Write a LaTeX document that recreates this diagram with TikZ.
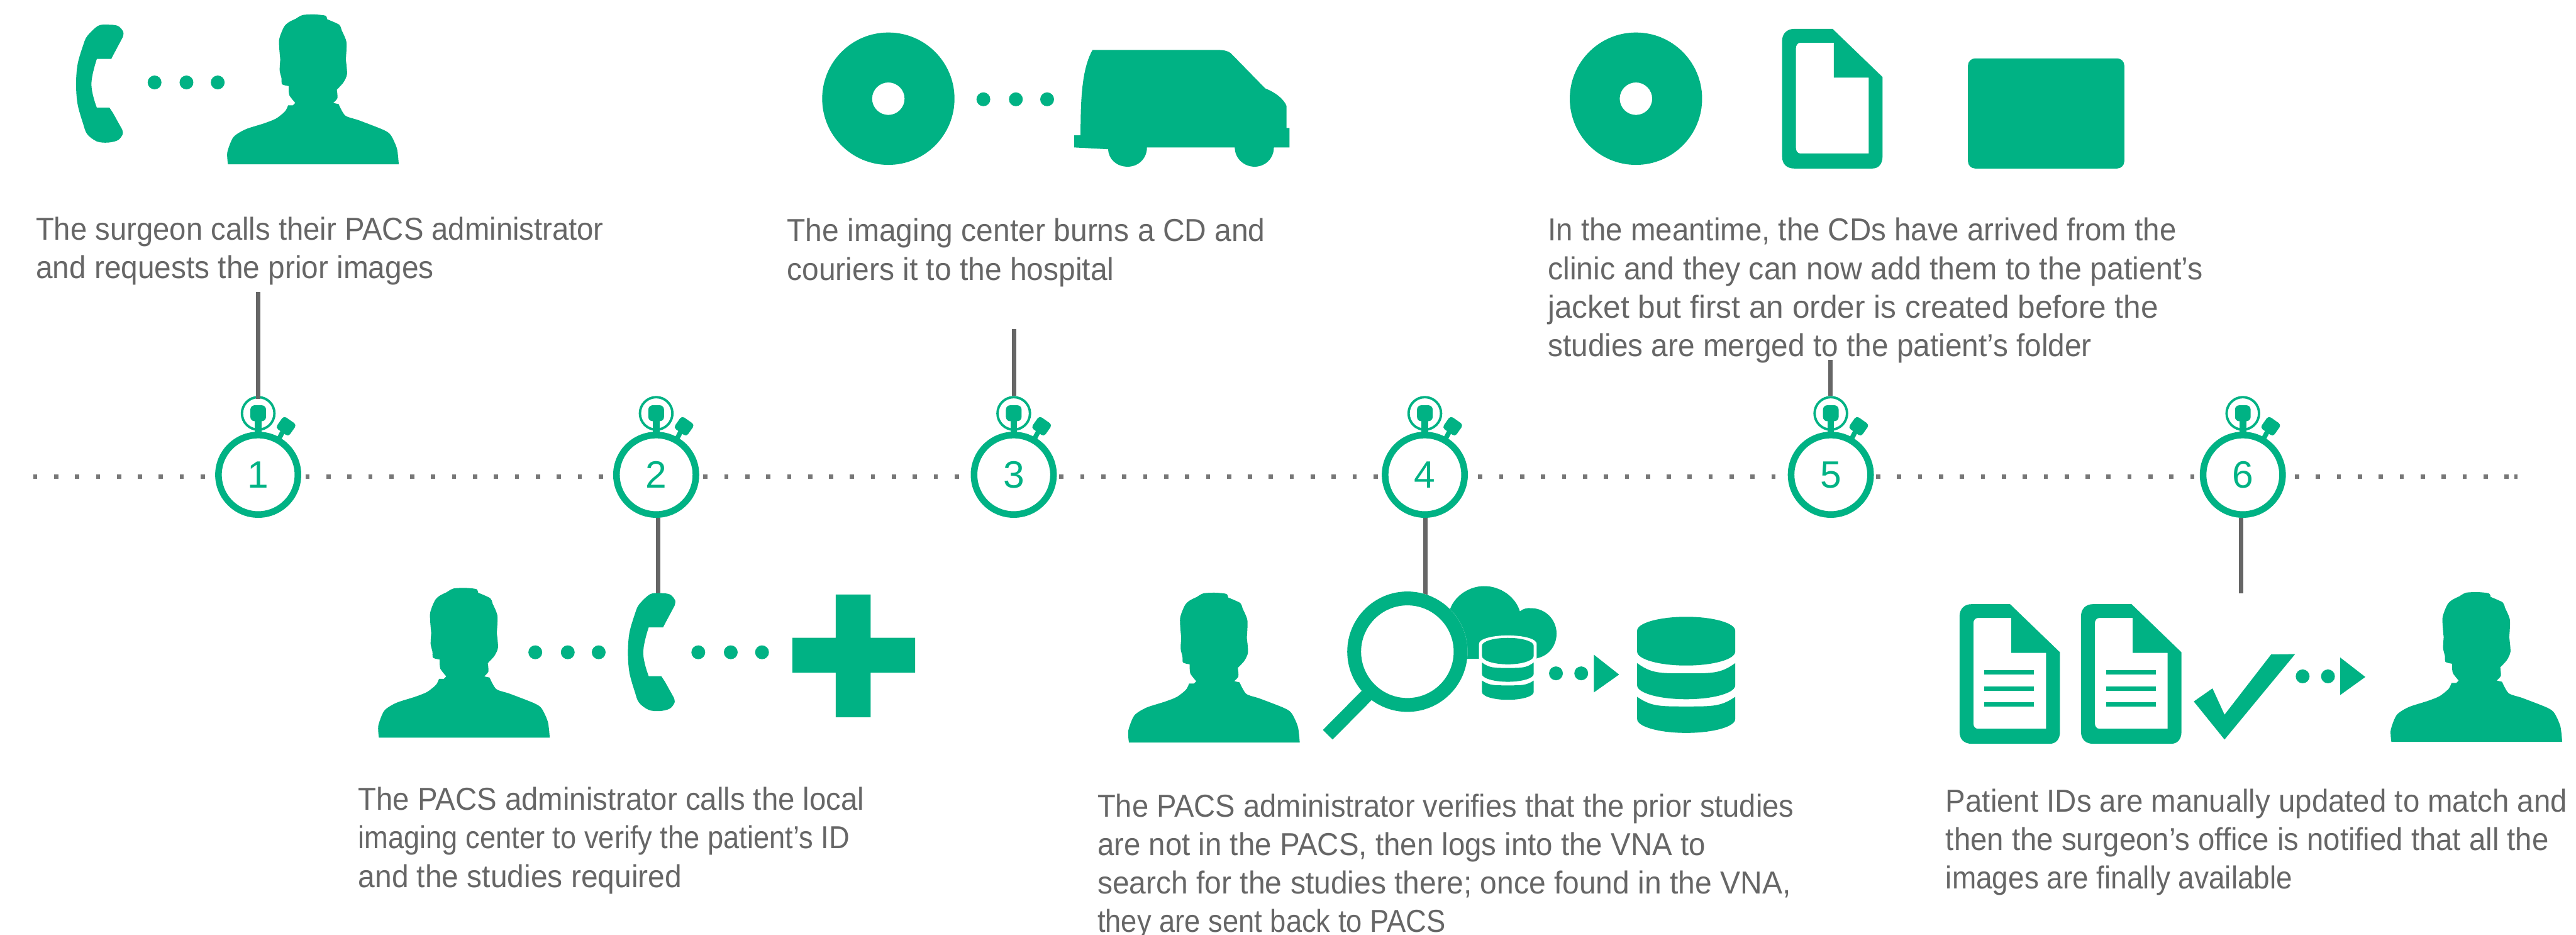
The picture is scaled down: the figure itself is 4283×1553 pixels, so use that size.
\documentclass[tikz,border=0pt]{standalone}
\usepackage{fontspec}
\usepackage{graphicx}
\setmainfont{Liberation Sans}
\definecolor{brandgreen}{HTML}{00B284}
\definecolor{linegrey}{HTML}{666666}
\definecolor{dotgrey}{HTML}{777777}
\definecolor{textgrey}{HTML}{666666}
\newlength{\pxu}\setlength{\pxu}{0.01cm}
\newcommand{\fitline}[2]{\resizebox{#1\pxu}{\height}{#2}}
\tikzset{
  iconfill/.style={fill=brandgreen,draw=none},
  leader/.style={draw=linegrey,line width=0.07cm},
  timeline/.style={draw=dotgrey,line width=0.07cm,dash pattern=on 0.07cm off 0.278cm},
  caption/.style={anchor=north west,inner sep=0pt,align=left,text=textgrey,font=\fontsize{15}{18.21}\selectfont},
  watchface/.style={circle,draw=brandgreen,fill=white,line width=0.11cm,minimum size=1.32cm,inner sep=0pt,text=brandgreen,font=\fontsize{18}{18}\selectfont},
  crownring/.style={circle,draw=brandgreen,line width=0.04cm,minimum size=0.54cm,inner sep=0pt}
}
\newcommand{\ruleup}{\rule{0pt}{11pt}}
% stopwatch: id, x, y, number
\newcommand{\stopwatch}[4]{%
  \node[crownring] (c#1) at (#2,#3-102) {};
  \begin{scope}[shift={(#2,#3)}]
    \fill[iconfill] (-5.6,-100) rectangle (5.6,-60);
    \fill[iconfill,rounded corners=0.07cm] (-13,-115.5) rectangle (13,-89);
    \fill[iconfill,rounded corners=0.05cm,rotate around={-35:(46.4,-80.7)}] (33.4,-92.7) rectangle (59.4,-68.7);
    \fill[iconfill,rotate around={-28:(33,-57)}] (29,-57) rectangle (37,-85);
  \end{scope}
  \node[watchface] (w#1) at (#2,#3) {#4};
}
\newcommand{\personicon}[3]{%
  \coordinate (#1) at (#2+520,#3+150);
  \fill[iconfill,shift={(#2,#3)}] (379,273)
   -- plot[smooth,tension=0.45] coordinates {(379,273) (378,253) (388,228) (408,215) (439,205) (459,197) (474,185) (479,175)}
   -- (487,175) -- (491,171)
   -- plot[smooth,tension=0.45] coordinates {(491,171) (481,158) (480,143)}
   -- plot[smooth,tension=0.45] coordinates {(480,143) (469,140) (468,130) (465,117) (466,99)}
   -- plot[smooth,tension=0.45] coordinates {(466,99) (464,67) (472,45) (480,37) (492,31)}
   -- plot[smooth,tension=0.45] coordinates {(492,31) (503,25) (523,24) (541,26) (544,32)}
   -- plot[smooth,tension=0.45] coordinates {(544,32) (564,41) (568,50) (576,70) (575,99)}
   -- plot[smooth,tension=0.45] coordinates {(575,99) (577,123) (571,137) (560,149)}
   -- plot[smooth,tension=0.45] coordinates {(560,149) (561,163) (554,171)}
   -- (563,173)
   -- plot[smooth,tension=0.45] coordinates {(563,173) (574,192) (597,200) (638,216) (650,225) (660,247) (663,273)}
   -- cycle;
}
\newcommand{\phoneicon}[3]{%
  \coordinate (#1) at (#2+179,#3+41);
  \fill[iconfill,shift={(#2,#3)}] (161,98) -- (185,98) -- (188,92) -- (204,62)
   -- plot[smooth,tension=0.55] coordinates {(204,62) (205,53) (196,43) (179,41) (163,43) (145,60) (138,76) (129,107) (126.5,140) (129,173) (138,205) (145,223) (161,235) (179,237) (196,233) (204,223) (203,215)}
   -- (188,188) -- (182,179) -- (161,179)
   -- plot[smooth,tension=0.7] coordinates {(161,179) (152,140) (161,98)}
   -- cycle;
}
\newcommand{\docicon}[3]{%
  \coordinate (#1) at (#2,#3);
  \fill[iconfill,even odd rule,shift={(#2,#3)}]
   (20,0) -- (84,0) -- (167,80) -- (167,212) .. controls (167,225) and (160,232) .. (150,232)
   -- (20,232) .. controls (8,232) and (0,225) .. (0,212) -- (0,20) .. controls (0,8) and (8,0) .. (20,0) -- cycle
   (30,23) -- (86,23) -- (86,81) -- (144,81) -- (144,207) -- (30,207)
   .. controls (26,207) and (23,203) .. (23,198) -- (23,32) .. controls (23,27) and (26,23) .. (30,23) -- cycle;
}
\newcommand{\dbtop}[6]{% L R top a b bot
  \pgfmathsetmacro{\dbc}{(#1+#2)/2}\pgfmathsetmacro{\dbk}{(#2-#1)*0.275}
  \fill[iconfill] (#1,#4) .. controls (#1,#4-0.55*#4+0.55*#3) and (\dbc-\dbk,#3) .. (\dbc,#3)
    .. controls (\dbc+\dbk,#3) and (#2,#4-0.55*#4+0.55*#3) .. (#2,#4) -- (#2,#5)
    .. controls (#2,#5+0.55*#6-0.55*#5) and (\dbc+\dbk,#6) .. (\dbc,#6)
    .. controls (\dbc-\dbk,#6) and (#1,#5+0.55*#6-0.55*#5) .. (#1,#5) -- cycle;
}
\newcommand{\dblow}[6]{% L R a mid b bot
  \pgfmathsetmacro{\dbc}{(#1+#2)/2}\pgfmathsetmacro{\dbk}{(#2-#1)*0.275}
  \fill[iconfill] (#1,#3) .. controls (\dbc-1.3*\dbk,#4) and (\dbc-\dbk,#4) .. (\dbc,#4)
    .. controls (\dbc+\dbk,#4) and (\dbc+1.3*\dbk,#4) .. (#2,#3) -- (#2,#5)
    .. controls (#2,#5+0.55*#6-0.55*#5) and (\dbc+\dbk,#6) .. (\dbc,#6)
    .. controls (\dbc-\dbk,#6) and (#1,#5+0.55*#6-0.55*#5) .. (#1,#5) -- cycle;
}
\begin{document}
\begin{tikzpicture}[x=0.01cm,y=-0.01cm]
\useasboundingbox (0,0) rectangle (4283,1553);
\fill[white] (0,0) rectangle (4283,1553);

% timeline
\coordinate (tlstart) at (55.1,792);
\coordinate (tlend) at (4172,792);
\coordinate (tlstuba) at (4181,792);
\coordinate (tlstubb) at (4185.5,792);
\draw[timeline] (tlstart) -- (tlend);
\draw[timeline] (tlstuba) -- (tlstubb);

% free ends of the leader lines
\coordinate (la) at (429.5,485);
\coordinate (lb) at (1094,986);
\coordinate (lc) at (1686,547);
\coordinate (ld) at (2370,990);
\coordinate (le) at (3043,598);
\coordinate (lf) at (3726,986);

% stopwatches
\stopwatch{1}{429.3}{789}{1}
\stopwatch{2}{1091}{789}{2}
\stopwatch{3}{1685.5}{789}{3}
\stopwatch{4}{2369}{789}{4}
\stopwatch{5}{3044}{789}{5}
\stopwatch{6}{3729}{789}{6}

\draw[leader] (la) -- (429.5,663);
\draw[leader] (lb |- w2.south) -- (lb);
\draw[leader] (lc) -- (lc |- c3.north);
\draw[leader] (ld |- w4.south) -- (ld);
\draw[leader] (le) -- (le |- c5.north);
\draw[leader] (lf |- w6.south) -- (lf);

% icons step 1
\phoneicon{phonea}{0}{0}
\foreach \dx in {257,310,362} \fill[iconfill] (\dx,137) circle (11.5);
\personicon{persona}{0}{0}

% icons step 2
\personicon{personb}{251}{953}
\foreach \dx in {890,944,995.4,1161,1215,1267} \fill[iconfill] (\dx,1084) circle (11.5);
\phoneicon{phoneb}{917.5}{944.7}
\fill[iconfill] (1389.5,988) -- (1447.6,988) -- (1447.6,1060) -- (1521.6,1060) -- (1521.6,1118) -- (1447.6,1118) -- (1447.6,1192) -- (1389.5,1192) -- (1389.5,1118) -- (1317.5,1118) -- (1317.5,1060) -- (1389.5,1060) -- cycle;

% icons step 3
\fill[iconfill,even odd rule] (1477,164) circle (110) (1477,164) circle (27);
\foreach \dx in {1635,1689,1741} \fill[iconfill] (\dx,165) circle (11.5);
\fill[iconfill] (1816.6,83) -- (2026,83) .. controls (2033,83) and (2040,84) .. (2046,88) -- (2103.7,147)
  .. controls (2120,153) and (2135,165) .. (2139,176) -- (2139,212.7) -- (2143.9,212.7) -- (2143.9,245) -- (2118,245)
  .. controls (2118,263) and (2104,277) .. (2086,277) .. controls (2068,277) and (2053,263) .. (2053,245) -- (1907,245)
  .. controls (1907,263) and (1893,277) .. (1875,277) .. controls (1857,277) and (1843,265) .. (1842.5,248) -- (1786,245) -- (1786,225) -- (1796.6,224.7)
  .. controls (1796.6,170) and (1798,115) .. (1816.6,83) -- cycle;

% icons step 4
\personicon{personc}{1498}{961}
\fill[iconfill] (2411,1012) .. controls (2420,988) and (2445,974) .. (2467.5,974)
  .. controls (2495,974) and (2520,992) .. (2527,1016) .. controls (2533,1011) and (2540,1010) .. (2546,1010.7)
  .. controls (2570,1011) and (2588,1030) .. (2588,1053) .. controls (2588,1073) and (2575,1090) .. (2555,1094)
  -- (2555,1095) -- (2420,1095) -- cycle;
\fill[white] (2459,1095) -- (2459,1070) .. controls (2459,1062) and (2480,1056) .. (2507,1056)
  .. controls (2534,1056) and (2555,1062) .. (2555,1070) -- (2555,1096) -- cycle;
\fill[white] (2340,1083) circle (100);
\fill[iconfill,even odd rule] (2340,1083) circle (100) (2340,1083) circle (77);
\fill[iconfill] (2264,1148) -- (2199.5,1213) -- (2215.6,1229) -- (2281,1163) -- cycle;
\dbtop{2464}{2550}{1060}{1073}{1090}{1104}
\dblow{2464}{2550}{1101}{1110}{1120}{1133}
\dblow{2464}{2550}{1131}{1139}{1150}{1163}
\foreach \dx in {2587,2629} \fill[iconfill] (\dx,1119) circle (11.5);
\fill[iconfill] (2650,1088) -- (2692,1121) -- (2650,1150.7) -- cycle;
\dbtop{2722}{2885}{1025}{1048}{1083}{1106}
\dblow{2722}{2885}{1102}{1119}{1139}{1162}
\dblow{2722}{2885}{1158}{1174}{1195}{1218}

% icons step 5
\fill[iconfill,even odd rule] (2720,164) circle (110) (2720,164) circle (27);
\docicon{docc}{2963}{48}
\fill[iconfill,rounded corners=0.12cm] (3272,97) rectangle (3532,280);

% icons step 6
\docicon{doca}{3258}{1004}
\docicon{docb}{3460}{1004}
\foreach \ox in {3258,3460} \foreach \oy in {1114,1141,1167}
  \fill[iconfill] (\ox+41.5,\oy) rectangle (\ox+124,\oy+7);
\fill[iconfill] (3647.5,1165.7) -- (3678.6,1144) -- (3698.6,1187.7) -- (3776,1087.7) -- (3816,1087) -- (3698.6,1229) -- cycle;
\foreach \dx in {3828.5,3870.6} \fill[iconfill] (\dx,1124) circle (11.5);
\fill[iconfill] (3891,1092.7) -- (3932.7,1125) -- (3891,1155) -- cycle;
\personicon{persond}{3597}{960}

% captions
\node[caption] (ta) at (59,359.5) {\ruleup\fitline{944}{The surgeon calls their PACS administrator}\\\fitline{661.5}{and requests the prior images}};
\node[caption] (tb) at (595,1307) {\ruleup\fitline{841.5}{The PACS administrator calls the local}\\\fitline{817}{imaging center to verify the patient’s ID}\\\fitline{538}{and the studies required}};
\node[caption] (tc) at (1308,362) {\ruleup\fitline{795}{The imaging center burns a CD and}\\\fitline{543.6}{couriers it to the hospital}};
\node[caption] (td) at (1824,1318) {\ruleup\fitline{1158}{The PACS administrator verifies that the prior studies}\\\fitline{1011}{are not in the PACS, then logs into the VNA to}\\\fitline{1153}{search for the studies there; once found in the VNA,}\\\fitline{579}{they are sent back to PACS}};
\node[caption] (te) at (2573,361) {\ruleup\fitline{1045}{In the meantime, the CDs have arrived from the}\\\fitline{1089}{clinic and they can now add them to the patient’s}\\\fitline{1015}{jacket but first an order is created before the}\\\fitline{904}{studies are merged to the patient’s folder}};
\node[caption] (tf) at (3234.5,1309.8) {\ruleup\fitline{1033}{Patient IDs are manually updated to match and}\\\fitline{1002.5}{then the surgeon’s office is notified that all the}\\\fitline{576.5}{images are finally available}};
\end{tikzpicture}
\end{document}
